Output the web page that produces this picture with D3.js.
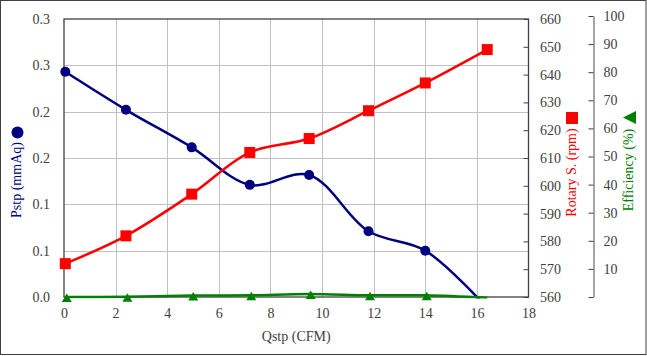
<!DOCTYPE html>
<html><head><meta charset="utf-8">
<script src="https://cdn.jsdelivr.net/npm/d3@7"></script>
<style>html,body{margin:0;padding:0;background:#fff;}svg{display:block;} svg text{font-family:"Liberation Serif","Times New Roman",serif;}</style>
</head><body>
<script>
// Data
const qstp = [0.05, 2.4, 4.95, 7.2, 9.5, 11.8, 14.0, 16.4];
const pstp = [0.243, 0.202, 0.1615, 0.121, 0.1317, 0.0709, 0.050, -0.012];
const rpm = [572, 582, 597, 612, 617, 627, 637, 649];
const eff = [0.0, 0.1, 0.5, 0.6, 1.1, 0.6, 0.6, -0.3];
const xTicks = [0, 2, 4, 6, 8, 10, 12, 14, 16, 18];
const pTicks = [0, 0.05, 0.1, 0.15, 0.2, 0.25, 0.3];
const pTickLabels = ["0.0", "0.1", "0.1", "0.2", "0.2", "0.3", "0.3"];
const rTicks = [560, 570, 580, 590, 600, 610, 620, 630, 640, 650, 660];
const eTicks = [0, 10, 20, 30, 40, 50, 60, 70, 80, 90, 100];

const W = 647, H = 356;
const L = 64, R = 528.5, T = 19, B = 297;
const font = "Liberation Serif, Times New Roman, serif";
const txt = "#404040";

const svg = d3.select("body").append("svg").attr("width", W).attr("height", H)
  .attr("font-family", font);

svg.append("rect").attr("x", 0.5).attr("y", 0.5).attr("width", W - 1.5).attr("height", H - 2)
  .attr("fill", "#fff").attr("stroke", "#404040").attr("stroke-width", 1);

const x = d3.scaleLinear().domain([0, 18]).range([L, R]);
const yP = d3.scaleLinear().domain([0, 0.3]).range([B, T]);
const yR = d3.scaleLinear().domain([560, 660]).range([B, T]);
const yE = d3.scaleLinear().domain([0, 100]).range([B, 16]);

// gridlines
const grid = svg.append("g").attr("stroke", "#c0c0c0").attr("stroke-width", 1);
grid.selectAll(".vx").data(xTicks.slice(1, -1)).enter().append("line")
  .attr("x1", d => Math.round(x(d)) + 0.5).attr("x2", d => Math.round(x(d)) + 0.5)
  .attr("y1", T).attr("y2", B);
grid.selectAll(".hy").data(pTicks.slice(1, -1)).enter().append("line")
  .attr("y1", d => Math.round(yP(d)) + 0.5).attr("y2", d => Math.round(yP(d)) + 0.5)
  .attr("x1", L).attr("x2", R);

// plot border
svg.append("rect").attr("x", L).attr("y", T).attr("width", R - L).attr("height", B - T)
  .attr("fill", "none").attr("stroke", "#404040").attr("stroke-width", 1.3);

// axes
function styleAxis(g) {
  g.attr("font-family", font).attr("font-size", 14);
  g.selectAll("text").attr("fill", txt);
  g.selectAll("line").attr("stroke", "#404040");
}
const gx = svg.append("g").attr("transform", `translate(0,${B})`)
  .call(d3.axisBottom(x).tickValues(xTicks).tickSize(0).tickPadding(11).tickFormat(d3.format("d")));
gx.select(".domain").remove(); styleAxis(gx);

const gl = svg.append("g").attr("transform", `translate(${L},0)`)
  .call(d3.axisLeft(yP).tickValues(pTicks).tickSize(0).tickPadding(14)
    .tickFormat((d, i) => pTickLabels[i]));
gl.select(".domain").remove(); styleAxis(gl);

const gr = svg.append("g").attr("transform", `translate(${R},0)`)
  .call(d3.axisRight(yR).tickValues(rTicks).tickSizeInner(-5).tickSizeOuter(0).tickPadding(11.5)
    .tickFormat(d3.format("d")));
gr.select(".domain").remove(); styleAxis(gr);

const ge = svg.append("g").attr("transform", `translate(593.5,0)`)
  .call(d3.axisRight(yE).tickValues(eTicks).tickSizeInner(-5).tickSizeOuter(0).tickPadding(10)
    .tickFormat(d => d === 0 ? "" : d));
styleAxis(ge);
ge.select(".domain").attr("stroke", "#888").attr("stroke-width", 1.5);

// axis titles
svg.append("text").attr("x", (L + R) / 2).attr("y", 341).attr("text-anchor", "middle")
  .attr("fill", txt).attr("font-size", 14).text("Qstp (CFM)");

svg.append("text").attr("transform", "translate(20.5,180) rotate(-90)").attr("text-anchor", "middle")
  .attr("fill", "#000080").attr("font-size", 14).text("Pstp (mmAq)");
svg.append("circle").attr("cx", 17.5).attr("cy", 132.5).attr("r", 6).attr("fill", "#000080");

svg.append("text").attr("transform", "translate(575.5,172.5) rotate(-90)").attr("text-anchor", "middle")
  .attr("fill", "#ff0000").attr("font-size", 14).text("Rotary S. (rpm)");
svg.append("rect").attr("x", 566).attr("y", 112).attr("width", 12).attr("height", 12).attr("fill", "#ff0000");

svg.append("text").attr("transform", "translate(633,170) rotate(-90)").attr("text-anchor", "middle")
  .attr("fill", "#008000").attr("font-size", 14).text("Efficiency (%)");
svg.append("path").attr("d", "M623,117.5L636,111L636,124Z").attr("fill", "#008000");

// clip
svg.append("clipPath").attr("id", "clip").append("rect")
  .attr("x", L).attr("y", T - 2).attr("width", R - L).attr("height", B - T + 3.5);

const plot = svg.append("g");
const lines = plot.append("g").attr("clip-path", "url(#clip)");

function series(vals, ys, color) {
  const pts = qstp.map((q, i) => [q, vals[i]]);
  lines.append("path").datum(pts)
    .attr("d", d3.line().x(d => x(d[0])).y(d => ys(d[1])).curve(d3.curveCatmullRom))
    .attr("fill", "none").attr("stroke", color).attr("stroke-width", 2.5);
  return pts.filter(d => d[1] >= ys.domain()[0]);
}

const pPts = series(pstp, yP, "#000080");
plot.selectAll(".pc").data(pPts).enter().append("circle")
  .attr("cx", d => x(d[0])).attr("cy", d => yP(d[1])).attr("r", 5).attr("fill", "#000080");

const rPts = series(rpm, yR, "#ff0000");
plot.selectAll(".rs").data(rPts).enter().append("rect")
  .attr("x", d => x(d[0]) - 5.5).attr("y", d => yR(d[1]) - 5.5)
  .attr("width", 11).attr("height", 11).attr("fill", "#ff0000");

const ePts = series(eff, yE, "#008000");
plot.selectAll(".et").data(ePts).enter().append("path")
  .attr("d", d => {
    const cx = x(d[0]) + 1.5, cy = yE(d[1]) + 1;
    return `M${cx},${cy - 4.5}L${cx + 5},${cy + 4}L${cx - 5},${cy + 4}Z`;
  }).attr("fill", "#008000");
</script>
</body></html>
